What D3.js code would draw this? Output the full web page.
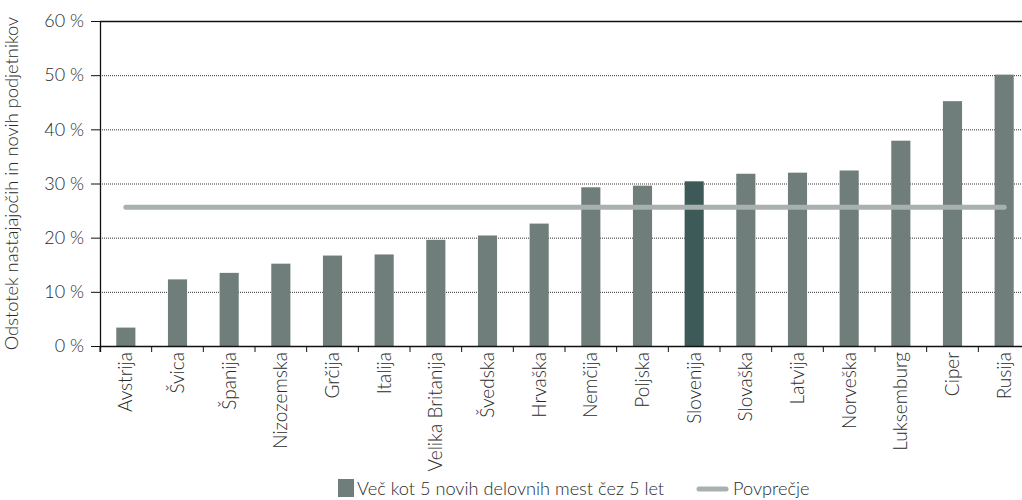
<!DOCTYPE html>
<html>
<head>
<meta charset="utf-8">
<script src="https://cdn.jsdelivr.net/npm/d3@7"></script>
<style>
  body { margin: 0; background: #fff; }
  svg text { font-family: Lato, "Open Sans", sans-serif; font-weight: 300; fill: #2a2a2a; }
  .grid line { stroke: #333; stroke-dasharray: 1,1; }
</style>
</head>
<body>
<div id="chart"></div>
<script>
var width = 1022,
    height = 500;

// podatki
var countries = ["Avstrija", "Švica", "Španija", "Nizozemska", "Grčija", "Italija",
  "Velika Britanija", "Švedska", "Hrvaška", "Nemčija", "Poljska", "Slovenija",
  "Slovaška", "Latvija", "Norveška", "Luksemburg", "Ciper", "Rusija"];
var values = [3.4, 12.3, 13.5, 15.2, 16.7, 16.9, 19.6, 20.4, 22.6, 29.3, 29.6, 30.4,
  31.8, 32.0, 32.4, 37.9, 45.2, 50.1];
var average = 25.6;
var yTicks = [0, 10, 20, 30, 40, 50, 60];
var highlight = "Slovenija";

var margin = {top: 21, right: -8, bottom: 154, left: 100};
var w = width - margin.left - margin.right,
    h = height - margin.top - margin.bottom;

var svg = d3.select("#chart").append("svg")
    .attr("width", width)
    .attr("height", height);

var g = svg.append("g")
    .attr("transform", "translate(" + margin.left + "," + margin.top + ")");

var x = d3.scaleBand()
    .domain(countries)
    .range([0, w])
    .paddingInner(0.63)
    .paddingOuter(0.315);

var y = d3.scaleLinear()
    .domain([0, 60])
    .range([h, 0]);

// mreža
g.append("g")
  .attr("class", "grid")
  .selectAll("line")
  .data(yTicks.filter(function(d) { return d > 0 && d < 60; }))
  .enter().append("line")
  .attr("x1", 0)
  .attr("x2", w)
  .attr("y1", function(d) { return y(d) + 0.5; })
  .attr("y2", function(d) { return y(d) + 0.5; });

// zgornja črta
g.append("line")
  .attr("x1", 0).attr("x2", w)
  .attr("y1", y(60) + 0.5).attr("y2", y(60) + 0.5)
  .attr("stroke", "#111").attr("stroke-width", 1.3);

// stolpci
g.selectAll(".bar")
  .data(countries)
  .enter().append("rect")
  .attr("class", "bar")
  .attr("x", function(d) { return x(d); })
  .attr("width", x.bandwidth())
  .attr("y", function(d, i) { return y(values[i]); })
  .attr("height", function(d, i) { return h - y(values[i]); })
  .attr("fill", function(d) { return d == highlight ? "#3d5a58" : "#6f7e7b"; });

// povprečje
g.append("line")
  .attr("x1", x(countries[0]) + x.bandwidth() / 2)
  .attr("x2", x(countries[countries.length - 1]) + x.bandwidth() / 2)
  .attr("y1", y(average))
  .attr("y2", y(average))
  .attr("stroke", "#a9b1af")
  .attr("stroke-width", 5)
  .attr("stroke-linecap", "round");

// os y
var yAxis = g.append("g")
  .call(d3.axisLeft(y).tickValues(yTicks).tickSize(9).tickPadding(7)
    .tickFormat(function(d) { return d + " %"; }));
yAxis.select(".domain").remove();
yAxis.selectAll(".tick line").attr("stroke", "#111");
yAxis.selectAll("text").style("font-size", "18px").attr("fill", "#2a2a2a");
g.append("line")
  .attr("x1", 0.5).attr("x2", 0.5)
  .attr("y1", 0).attr("y2", h + 6)
  .attr("stroke", "#111").attr("stroke-width", 1.3);

// os x
var xAxis = g.append("g")
  .attr("transform", "translate(0," + h + ")")
  .call(d3.axisBottom(x).tickSize(0));
xAxis.select(".domain").remove();
g.append("line")
  .attr("x1", 0).attr("x2", w)
  .attr("y1", h + 0.5).attr("y2", h + 0.5)
  .attr("stroke", "#111").attr("stroke-width", 1.3);
g.selectAll(".xsep")
  .data(countries)
  .enter().append("line")
  .attr("x1", function(d) { return x(d) - x.step() * x.paddingInner() / 2; })
  .attr("x2", function(d) { return x(d) - x.step() * x.paddingInner() / 2; })
  .attr("y1", h).attr("y2", h + 6)
  .attr("stroke", "#111");
xAxis.selectAll("text")
  .style("font-size", "19px")
  .attr("fill", "#2a2a2a")
  .attr("text-anchor", "end")
  .attr("transform", "rotate(-90)")
  .attr("x", -6)
  .attr("y", 0)
  .attr("dy", "0.35em");

// naslov osi y
svg.append("text")
  .attr("transform", "translate(18," + (margin.top + h / 2) + ") rotate(-90)")
  .attr("text-anchor", "middle")
  .style("font-size", "18.3px")
  .text("Odstotek nastajajočih in novih podjetnikov");

// legenda
svg.append("rect")
  .attr("x", 338).attr("y", 479)
  .attr("width", 16).attr("height", 18)
  .attr("fill", "#6f7e7b");
svg.append("text")
  .attr("x", 357).attr("y", 495)
  .style("font-size", "18.2px")
  .text("Več kot 5 novih delovnih mest čez 5 let");
svg.append("line")
  .attr("x1", 699).attr("x2", 726)
  .attr("y1", 489).attr("y2", 489)
  .attr("stroke", "#a9b1af")
  .attr("stroke-width", 5)
  .attr("stroke-linecap", "round");
svg.append("text")
  .attr("x", 733).attr("y", 495)
  .style("font-size", "18.2px")
  .text("Povprečje");
</script>
</body>
</html>
